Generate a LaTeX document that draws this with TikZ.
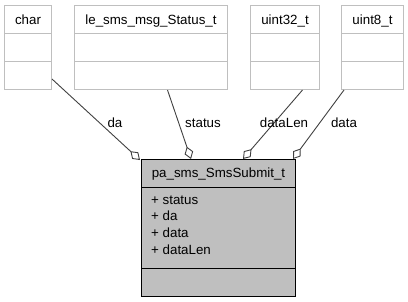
\documentclass[tikz,border=0pt]{standalone}
\usepackage{fontspec}
\setmainfont{Liberation Sans}
\usetikzlibrary{arrows.meta,calc}
\definecolor{boxgray}{HTML}{BFBFBF}
\definecolor{edgegray}{HTML}{404040}
\begin{document}
\begin{tikzpicture}[x=1pt,y=-1pt,
  every node/.style={font=\fontsize{13.33}{16}\selectfont,inner sep=0pt},
  typebox/.style={draw=boxgray,line width=1pt,fill=white,rectangle,anchor=north west},
  mainbox/.style={draw=black,line width=1pt,fill=boxgray,rectangle,anchor=north west},
  uses/.style={draw=edgegray,line width=0.9pt,
    -{Diamond[length=13pt,width=9pt,fill=white,line width=0.9pt]}},
  elabel/.style={anchor=base},
  member/.style={anchor=base west}]
\useasboundingbox (0,0) rectangle (408,301);

% referenced types (three-compartment boxes)
\node[typebox,minimum width=47pt,minimum height=84pt]  (char) at (4,5) {};
\node[typebox,minimum width=153pt,minimum height=84pt] (status) at (74,5) {};
\node[typebox,minimum width=69pt,minimum height=84pt]  (u32) at (250,5) {};
\node[typebox,minimum width=62pt,minimum height=84pt]  (u8) at (341,5) {};
\foreach \b in {char,status,u32,u8}{
  \draw[boxgray,line width=1pt] ($(\b.north west)+(0,28)$) -- ($(\b.north east)+(0,28)$);
  \draw[boxgray,line width=1pt] ($(\b.north west)+(0,56)$) -- ($(\b.north east)+(0,56)$);
}
\node[anchor=base] (charT) at ($(char.north)+(0,19)$) {char};
\node[anchor=base] (statusT) at ($(status.north)+(0,19)$) {le\_sms\_msg\_Status\_t};
\node[anchor=base] (u32T) at ($(u32.north)+(0,19)$) {uint32\_t};
\node[anchor=base] (u8T) at ($(u8.north)+(0,19)$) {uint8\_t};

% the struct itself
\node[mainbox,minimum width=154pt,minimum height=137pt] (sub) at (141,159) {};
\draw[black,line width=1pt] ($(sub.north west)+(0,28)$) -- ($(sub.north east)+(0,28)$);
\draw[black,line width=1pt] ($(sub.south west)+(0,-29)$) -- ($(sub.south east)+(0,-29)$);
\node[anchor=base] (subT) at ($(sub.north)+(0,18)$) {pa\_sms\_SmsSubmit\_t};
\node[member] (m1) at ($(sub.north west)+(10,45)$) {+ status};
\node[member] (m2) at ($(sub.north west)+(10,61.7)$) {+ da};
\node[member] (m3) at ($(sub.north west)+(10,78.4)$) {+ data};
\node[member] (m4) at ($(sub.north west)+(10,95.1)$) {+ dataLen};

% aggregation connectors
\draw[uses] ($(char.south east)+(0,-11)$) -- ($(sub.north west)+(-1,1)$);
\draw[uses] ($(status.south)+(16.5,0)$) -- ($(sub.north west)+(50,0)$);
\draw[uses] ($(u32.south)+(17.5,0)$) -- ($(sub.north west)+(102,0)$);
\draw[uses] ($(u8.south west)+(3,0)$) -- ($(sub.north east)+(-3,0)$);

% connector labels
\node[elabel] (l1) at (115,127) {da};
\node[elabel] (l2) at (203,127) {status};
\node[elabel] (l3) at (284,127) {dataLen};
\node[elabel] (l4) at (344,127) {data};
\end{tikzpicture}
\end{document}
